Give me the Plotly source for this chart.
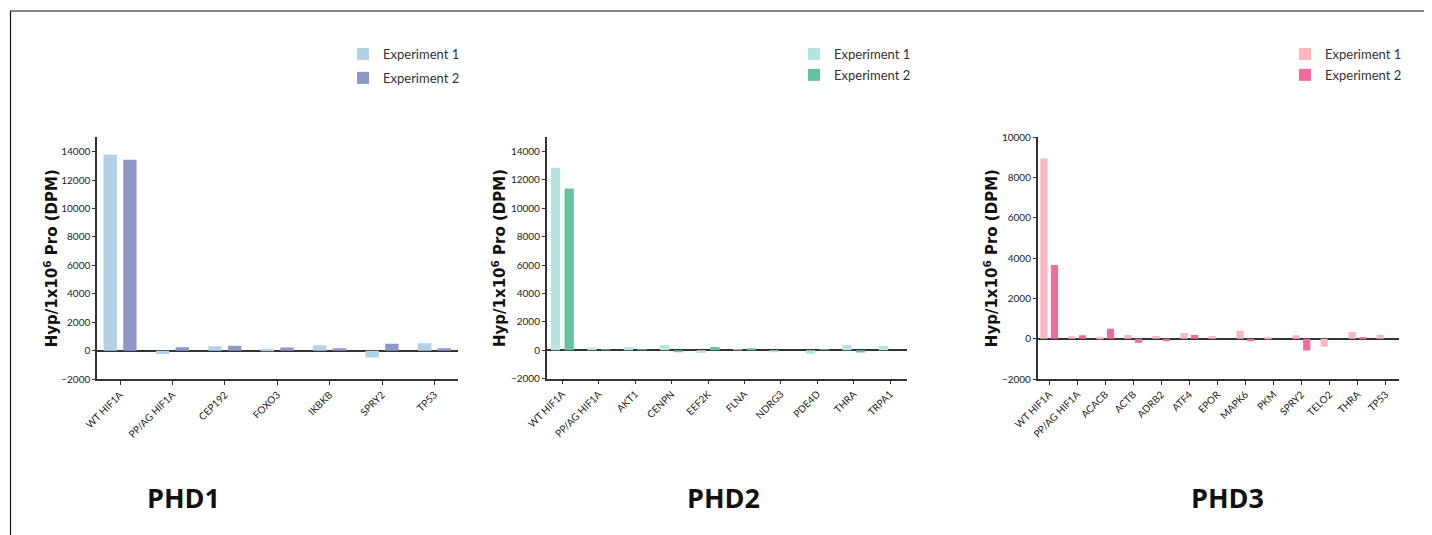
import plotly.graph_objects as go

W, H = 1432, 535
OFF = 8  # page body margin in the browser

# ---------------- data ----------------
phd1_genes = ["WT HIF1A", "PP/AG HIF1A", "CEP192", "FOXO3", "IKBKB", "SPRY2", "TP53"]
phd1_exp1 = [13800, -220, 330, 140, 400, -470, 540]
phd1_exp2 = [13420, 250, 350, 230, 185, 490, 185]

phd2_genes = ["WT HIF1A", "PP/AG HIF1A", "AKT1", "CENPN", "EEF2K", "FLNA", "NDRG3", "PDE4D", "THRA", "TRPA1"]
phd2_exp1 = [12850, 180, 210, 370, -190, 30, -140, -240, 370, 300]
phd2_exp2 = [11400, 10, 30, -140, 230, 90, 0, 30, -160, 0]

phd3_genes = ["WT HIF1A", "PP/AG HIF1A", "ACACB", "ACTB", "ADRB2", "ATF4", "EPOR", "MAPK6", "PKM", "SPRY2", "TELO2", "THRA", "TP53"]
phd3_exp1 = [8950, 120, 80, 180, 130, 280, 130, 400, 80, 170, -400, 330, 200]
phd3_exp2 = [3660, 170, 500, -200, -130, 180, 0, -130, 0, -580, 0, 80, 0]

series_names = ["Experiment 1", "Experiment 2"]
panel_titles = ["PHD1", "PHD2", "PHD3"]
y_ranges = [[-2000, 15000], [-2000, 15000], [-2000, 10000]]
x_ranges = [[-0.44, 6.45], [-0.43, 9.47], [-0.41, 12.47]]
colors = [("#b3d1e7", "#8d97c9"), ("#b3e5e3", "#66c39f"), ("#fbb6c0", "#f26a9e")]

panels = [
    (phd1_genes, phd1_exp1, phd1_exp2),
    (phd2_genes, phd2_exp1, phd2_exp2),
    (phd3_genes, phd3_exp1, phd3_exp2),
]

# ---------------- layout geometry (pixels, screen coords) ----------------
x_dom_px = [(97, 458), (546.7, 907.3), (1037.7, 1398.7)]
y_dom_px = [(137.3, 379.3), (137.3, 378.7), (137.3, 379.0)]
ylabel_x_px = [51, 499, 991]
title_x_px = [183, 723, 1227]
legend_x_px = [343, 794, 1285]
legend_y_px = [39, 39, 39]
legend_gap = [4, 1, 1]


def px(x):
    return (x - OFF) / W


def py(y):
    return 1 - (y - OFF) / H


fig = go.Figure()
axis_color = "#333333"
tick_font = dict(family="Lato, Open Sans, sans-serif", size=10, color="#222222")

layout = dict(
    width=W, height=H,
    margin=dict(l=0, r=0, t=0, b=0, autoexpand=False),
    paper_bgcolor="white", plot_bgcolor="white",
    barmode="group", bargap=0.25, bargroupgap=0.32,
    annotations=[], shapes=[],
)

for i, (genes, e1, e2) in enumerate(panels):
    n = "" if i == 0 else str(i + 1)
    xa, ya = "x" + n, "y" + n
    lg = "legend" + n
    for s, vals in enumerate((e1, e2)):
        fig.add_trace(go.Bar(
            x=genes, y=vals, name=series_names[s],
            marker=dict(color=colors[i][s], line=dict(width=0)),
            xaxis=xa, yaxis=ya, legend=lg, legendgroup=f"p{i}s{s}",
        ))
    layout["xaxis" + n] = dict(
        domain=[px(x_dom_px[i][0]), px(x_dom_px[i][1])],
        anchor=ya, type="category", range=x_ranges[i],
        showline=True, linecolor=axis_color, linewidth=1.5,
        ticks="outside", ticklen=4, tickwidth=1.2, tickcolor=axis_color,
        tickangle=-45, tickfont=tick_font, showgrid=False, zeroline=False,
        automargin=False,
    )
    layout["yaxis" + n] = dict(
        domain=[py(y_dom_px[i][1]), py(y_dom_px[i][0])],
        anchor=xa, range=y_ranges[i], dtick=2000, tickformat="d",
        showline=True, linecolor=axis_color, linewidth=1.5,
        ticks="outside", ticklen=3, tickwidth=1.2, tickcolor=axis_color,
        tickfont=tick_font, showgrid=False,
        zeroline=True, zerolinecolor=axis_color, zerolinewidth=1.5,
        automargin=False,
    )
    layout[lg] = dict(
        x=px(legend_x_px[i]), y=py(legend_y_px[i]),
        xanchor="left", yanchor="top",
        font=dict(family="Lato, Open Sans, sans-serif", size=13, color="#333333"),
        bgcolor="rgba(0,0,0,0)", tracegroupgap=legend_gap[i], itemwidth=30,
    )
    y_mid = (y_dom_px[i][0] + y_dom_px[i][1]) / 2
    layout["annotations"].append(dict(
        x=px(ylabel_x_px[i]), y=py(y_mid), xref="paper", yref="paper",
        text="Hyp/1x10<sup>6</sup> Pro (DPM)", textangle=-90, showarrow=False,
        font=dict(family="DejaVu Sans, sans-serif", size=15, color="#111111", weight="bold"),
        xanchor="center", yanchor="middle",
    ))
    layout["annotations"].append(dict(
        x=px(title_x_px[i]), y=py(497), xref="paper", yref="paper",
        text="<b>" + panel_titles[i] + "</b>", showarrow=False,
        font=dict(family="Open Sans, sans-serif", size=27, color="#111111"),
        xanchor="center", yanchor="middle",
    ))

# frame lines (top and left)
layout["shapes"] = [
    dict(type="line", xref="paper", yref="paper", x0=px(10), x1=1.02, y0=py(11), y1=py(11),
         line=dict(color="#111111", width=1.2)),
    dict(type="line", xref="paper", yref="paper", x0=px(10.5), x1=px(10.5), y0=py(11), y1=-0.05,
         line=dict(color="#111111", width=1.2)),
]

fig.update_layout(**layout)
fig.write_html("out.html")
